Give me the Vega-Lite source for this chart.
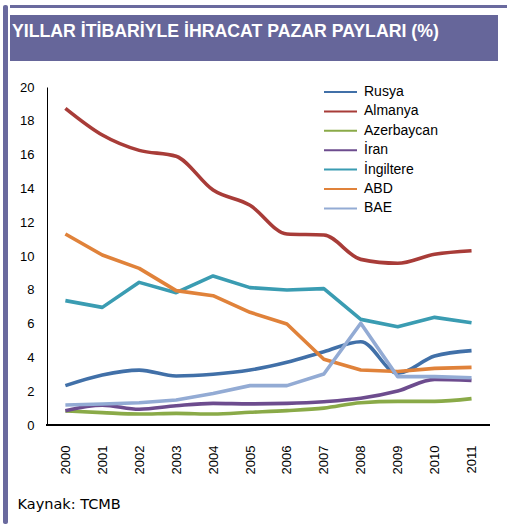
{
  "$schema": "https://vega.github.io/schema/vega-lite/v6.json",
  "autosize": {"type": "pad"},
  "padding": {"left": 3, "top": 5, "right": 0, "bottom": 0},
  "background": "white",
  "config": {
    "font": "Liberation Sans",
    "view": {"stroke": null},
    "concat": {"spacing": 0}
  },
  "datasets": {
    "shares": [
      {"year": 2000, "country": "Rusya", "share": 2.33},
      {"year": 2001, "country": "Rusya", "share": 2.96},
      {"year": 2002, "country": "Rusya", "share": 3.25},
      {"year": 2003, "country": "Rusya", "share": 2.9},
      {"year": 2004, "country": "Rusya", "share": 3.0},
      {"year": 2005, "country": "Rusya", "share": 3.25},
      {"year": 2006, "country": "Rusya", "share": 3.71},
      {"year": 2007, "country": "Rusya", "share": 4.34},
      {"year": 2008, "country": "Rusya", "share": 4.93},
      {"year": 2009, "country": "Rusya", "share": 3.06},
      {"year": 2010, "country": "Rusya", "share": 4.08},
      {"year": 2011, "country": "Rusya", "share": 4.4},
      {"year": 2000, "country": "Almanya", "share": 18.74},
      {"year": 2001, "country": "Almanya", "share": 17.16},
      {"year": 2002, "country": "Almanya", "share": 16.25},
      {"year": 2003, "country": "Almanya", "share": 15.9},
      {"year": 2004, "country": "Almanya", "share": 13.9},
      {"year": 2005, "country": "Almanya", "share": 13.0},
      {"year": 2006, "country": "Almanya", "share": 11.3},
      {"year": 2007, "country": "Almanya", "share": 11.24},
      {"year": 2008, "country": "Almanya", "share": 9.8},
      {"year": 2009, "country": "Almanya", "share": 9.57},
      {"year": 2010, "country": "Almanya", "share": 10.1},
      {"year": 2011, "country": "Almanya", "share": 10.31},
      {"year": 2000, "country": "Azerbaycan", "share": 0.83},
      {"year": 2001, "country": "Azerbaycan", "share": 0.73},
      {"year": 2002, "country": "Azerbaycan", "share": 0.65},
      {"year": 2003, "country": "Azerbaycan", "share": 0.69},
      {"year": 2004, "country": "Azerbaycan", "share": 0.65},
      {"year": 2005, "country": "Azerbaycan", "share": 0.75},
      {"year": 2006, "country": "Azerbaycan", "share": 0.85},
      {"year": 2007, "country": "Azerbaycan", "share": 1.0},
      {"year": 2008, "country": "Azerbaycan", "share": 1.32},
      {"year": 2009, "country": "Azerbaycan", "share": 1.4},
      {"year": 2010, "country": "Azerbaycan", "share": 1.4},
      {"year": 2011, "country": "Azerbaycan", "share": 1.56},
      {"year": 2000, "country": "İran", "share": 0.85},
      {"year": 2001, "country": "İran", "share": 1.17},
      {"year": 2002, "country": "İran", "share": 0.93},
      {"year": 2003, "country": "İran", "share": 1.14},
      {"year": 2004, "country": "İran", "share": 1.28},
      {"year": 2005, "country": "İran", "share": 1.25},
      {"year": 2006, "country": "İran", "share": 1.28},
      {"year": 2007, "country": "İran", "share": 1.38},
      {"year": 2008, "country": "İran", "share": 1.58},
      {"year": 2009, "country": "İran", "share": 2.01},
      {"year": 2010, "country": "İran", "share": 2.7},
      {"year": 2011, "country": "İran", "share": 2.64},
      {"year": 2000, "country": "İngiltere", "share": 7.36},
      {"year": 2001, "country": "İngiltere", "share": 6.96},
      {"year": 2002, "country": "İngiltere", "share": 8.44},
      {"year": 2003, "country": "İngiltere", "share": 7.83},
      {"year": 2004, "country": "İngiltere", "share": 8.82},
      {"year": 2005, "country": "İngiltere", "share": 8.13},
      {"year": 2006, "country": "İngiltere", "share": 7.99},
      {"year": 2007, "country": "İngiltere", "share": 8.07},
      {"year": 2008, "country": "İngiltere", "share": 6.25},
      {"year": 2009, "country": "İngiltere", "share": 5.82},
      {"year": 2010, "country": "İngiltere", "share": 6.37},
      {"year": 2011, "country": "İngiltere", "share": 6.05},
      {"year": 2000, "country": "ABD", "share": 11.3},
      {"year": 2001, "country": "ABD", "share": 10.06},
      {"year": 2002, "country": "ABD", "share": 9.27},
      {"year": 2003, "country": "ABD", "share": 7.95},
      {"year": 2004, "country": "ABD", "share": 7.65},
      {"year": 2005, "country": "ABD", "share": 6.67},
      {"year": 2006, "country": "ABD", "share": 5.98},
      {"year": 2007, "country": "ABD", "share": 3.89},
      {"year": 2008, "country": "ABD", "share": 3.25},
      {"year": 2009, "country": "ABD", "share": 3.17},
      {"year": 2010, "country": "ABD", "share": 3.35},
      {"year": 2011, "country": "ABD", "share": 3.41},
      {"year": 2000, "country": "BAE", "share": 1.18},
      {"year": 2001, "country": "BAE", "share": 1.24},
      {"year": 2002, "country": "BAE", "share": 1.32},
      {"year": 2003, "country": "BAE", "share": 1.48},
      {"year": 2004, "country": "BAE", "share": 1.87},
      {"year": 2005, "country": "BAE", "share": 2.33},
      {"year": 2006, "country": "BAE", "share": 2.33},
      {"year": 2007, "country": "BAE", "share": 3.02},
      {"year": 2008, "country": "BAE", "share": 6.02},
      {"year": 2009, "country": "BAE", "share": 2.86},
      {"year": 2010, "country": "BAE", "share": 2.86},
      {"year": 2011, "country": "BAE", "share": 2.8}
    ]
  },
  "hconcat": [
    {
      "width": 5,
      "height": 519,
      "view": {"fill": "#6A6A9E", "stroke": null, "cornerRadius": 2},
      "data": {"values": []},
      "mark": {"type": "text"},
      "encoding": {}
    },
    {
      "vconcat": [
        {
          "width": 497,
          "height": 3,
          "view": {"fill": "#6A6A9E", "stroke": null},
          "data": {"values": []},
          "mark": {"type": "text"},
          "encoding": {}
        },
        {
          "vconcat": [
            {
              "width": 488,
              "height": 46,
              "view": {"fill": "#66669A", "stroke": null},
              "data": {"values": [{"t": "YILLAR İTİBARİYLE İHRACAT PAZAR PAYLARI (%)"}]},
              "mark": {"type": "text", "align": "left", "baseline": "middle", "dx": -242, "dy": -6, "font": "Liberation Sans", "fontWeight": "bold", "fontSize": 17.7, "color": "white"},
              "encoding": {"text": {"field": "t"}}
            },
            {
              "width": 480,
              "height": 338,
              "data": {"name": "shares"},
              "encoding": {
                "x": {
                  "field": "year",
                  "type": "quantitative",
                  "scale": {"domain": [1998.5, 2011.5], "nice": false, "zero": false},
                  "axis": {
                    "title": "Kaynak: TCMB",
                    "titleFont": "DejaVu Sans",
                    "titleFontWeight": "normal",
                    "titleFontSize": 14.5,
                    "titleColor": "#000",
                    "titleAnchor": "start",
                    "titleAlign": "left",
                    "titleBaseline": "middle",
                    "titleX": 7,
                    "titleY": 79,
                    "values": [2000, 2001, 2002, 2003, 2004, 2005, 2006, 2007, 2008, 2009, 2010, 2011],
                    "format": "d",
                    "labelAngle": -90,
                    "labelAlign": "right",
                    "labelBaseline": "middle",
                    "labelPadding": 20,
                    "labelFontSize": 13,
                    "labelColor": "#000",
                    "labelFlush": false,
                    "labelOverlap": false,
                    "ticks": false,
                    "tickSize": 0,
                    "domain": false,
                    "grid": false
                  }
                },
                "y": {
                  "field": "share",
                  "type": "quantitative",
                  "scale": {"domain": [0, 20], "nice": false},
                  "axis": {
                    "title": null,
                    "offset": -37,
                    "values": [0, 2, 4, 6, 8, 10, 12, 14, 16, 18, 20],
                    "labelFontSize": 13,
                    "labelColor": "#000",
                    "labelPadding": 13,
                    "ticks": false,
                    "tickSize": 0,
                    "domainColor": "#000",
                    "domainWidth": 1,
                    "grid": false
                  }
                }
              },
              "layer": [
                {
                  "mark": {"type": "rule", "color": "#000", "strokeWidth": 1.5},
                  "encoding": {
                    "x": {"datum": 1999.5},
                    "x2": {"datum": 2011.5},
                    "y": {"datum": 0}
                  }
                },
                {
                  "transform": [{"filter": "indexof(['Rusya','Almanya','Azerbaycan','İran'], datum.country) >= 0"}],
                  "mark": {"type": "line", "interpolate": "monotone", "strokeWidth": 3.6},
                  "encoding": {
                    "color": {
                      "field": "country",
                      "type": "nominal",
                      "scale": {
                        "domain": ["Rusya", "Almanya", "Azerbaycan", "İran", "İngiltere", "ABD", "BAE"],
                        "range": ["#4170A8", "#A83C38", "#8AAA48", "#6D4C8E", "#3A9CB2", "#E0823A", "#93ABD4"]
                      },
                      "legend": {
                        "title": null,
                        "orient": "none",
                        "legendX": 330.5,
                        "legendY": 80,
                        "symbolType": "M-3.3,0H3.3",
                        "symbolSize": 100,
                        "symbolStrokeWidth": 2,
                        "labelFontSize": 14,
                        "labelColor": "#000",
                        "labelOffset": 16.5,
                        "rowPadding": 5.4,
                        "padding": 0
                      }
                    }
                  }
                },
                {
                  "transform": [{"filter": "indexof(['İngiltere','ABD','BAE'], datum.country) >= 0"}],
                  "mark": {"type": "line", "interpolate": "linear", "strokeWidth": 3.6, "strokeJoin": "round"},
                  "encoding": {
                    "color": {"field": "country", "type": "nominal"}
                  }
                }
              ]
            }
          ],
          "spacing": 20
        }
      ],
      "spacing": 7
    }
  ],
  "spacing": 2
}
